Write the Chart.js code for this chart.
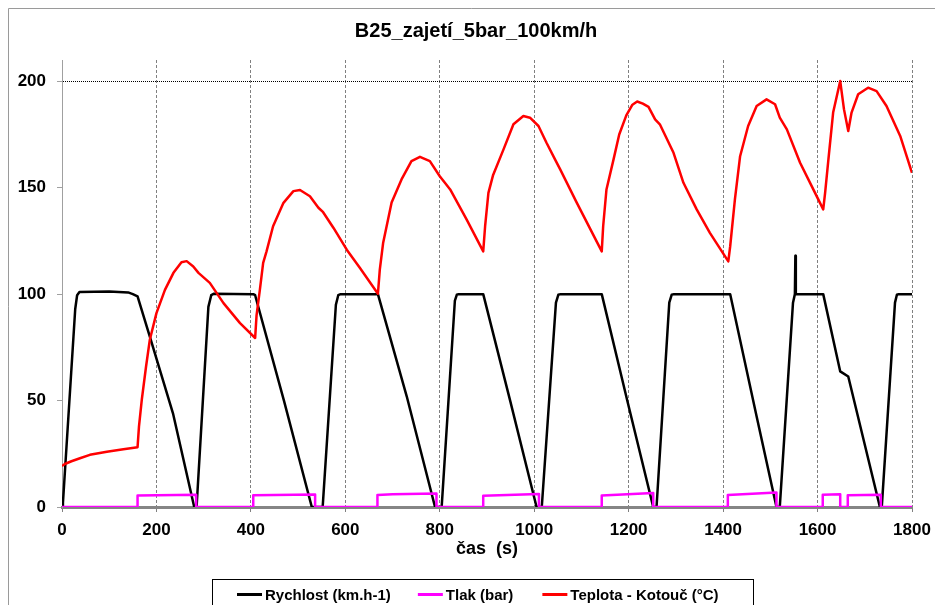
<!DOCTYPE html>
<html>
<head>
<meta charset="utf-8">
<title>B25_zajetí_5bar_100km/h</title>
<script src="https://cdn.jsdelivr.net/npm/chart.js@4.4.1/dist/chart.umd.min.js"></script>
<style>
html, body { margin: 0; padding: 0; background: #fff; }
</style>
</head>
<body>
<canvas id="myChart" width="935" height="605"></canvas>
<script>
var nazev = 'B25_zajetí_5bar_100km/h';
var osaX = 'čas  (s)';

// Rychlost (km.h-1)
var rychlostCas = [0, 2, 28, 32, 37, 100, 140, 150, 160, 186, 235, 280,
	285, 310, 316, 322, 405, 409, 470, 529,
	552, 580, 585, 590, 669, 730, 790,
	804, 832, 836, 840, 892, 949, 1005,
	1016, 1046, 1051, 1056, 1143, 1197, 1252,
	1259, 1286, 1291, 1296, 1415, 1471, 1513,
	1520, 1548, 1552, 1553, 1554, 1612, 1648, 1665, 1732,
	1736, 1764, 1768, 1772, 1800];
var rychlostHodnoty = [0, 2, 93, 99.5, 101, 101.2, 100.8, 100, 99, 80, 44, 0,
	0, 94, 99.5, 100.2, 100, 99.5, 50, 0,
	0, 95, 99.5, 100, 100, 52, 0,
	0, 97, 99.7, 100, 100, 50, 0,
	0, 96, 99.7, 100, 100, 50, 0,
	0, 96, 99.7, 100, 100, 42.5, 0,
	0, 96, 100, 118, 100, 100, 63.7, 61.3, 0,
	0, 96, 99.7, 100, 100];

// Tlak (bar)
var tlakCas = [0, 160, 160, 284, 284,
	405, 405, 536, 536,
	668, 668, 700, 793, 793,
	892, 892, 1010, 1010,
	1143, 1143, 1252, 1252,
	1410, 1410, 1513, 1513,
	1611, 1611, 1648, 1648,
	1664, 1664, 1734, 1734, 1800];
var tlakHodnoty = [0, 0, 5.4, 5.8, 0,
	0, 5.5, 5.9, 0,
	0, 5.6, 6.0, 6.3, 0,
	0, 5.3, 6.1, 0,
	0, 5.4, 6.6, 0,
	0, 5.6, 6.8, 0,
	0, 5.7, 6.0, 0,
	0, 5.5, 5.7, 0, 0];

// Teplota - Kotouč (°C)
var teplotaCas = [0, 6, 20, 38, 59, 95, 130, 160,
	163, 169, 178, 186, 200, 218, 236, 253, 264, 278, 289, 313, 342, 377, 409,
	412, 419, 426, 433, 447, 469, 490, 504, 525, 543, 553, 575, 603, 631, 669,
	673, 680, 698, 719, 740, 758, 779, 800, 822, 857, 892,
	896, 903, 913, 935, 956, 977, 991, 1009, 1026, 1044, 1055, 1090, 1143,
	1146, 1153, 1168, 1180, 1195, 1208, 1218, 1230, 1242, 1256, 1266, 1295, 1316, 1344, 1372, 1411,
	1415, 1425, 1436, 1453, 1471, 1492, 1510, 1520, 1535, 1563, 1591, 1612,
	1616, 1623, 1633, 1648, 1656, 1665, 1672, 1686, 1707, 1725, 1746, 1775, 1800];
var teplotaHodnoty = [19.3, 20.2, 21.5, 22.9, 24.5, 26.0, 27.1, 28.1,
	37.8, 50.4, 66, 78.6, 91.1, 102, 110, 115, 115.5, 113, 110, 105.3, 95.8, 86.4, 79.4,
	90, 102, 114.7, 120, 131.9, 142.9, 148.4, 148.9, 146, 140.6, 138.5, 131.1, 120.9, 112.3, 100.2,
	111.5, 124, 143, 153.9, 162.5, 164.5, 162.5, 155.4, 149.2, 135, 120.1,
	131.9, 147.6, 156, 168, 179.8, 183.7, 182.9, 179, 171.1, 163.3, 158.6, 143, 120.1,
	131.9, 149.2, 163.3, 175, 184, 189, 190.5, 189.5, 188, 182.1, 179.8, 166.4, 152.3, 139.8, 128.8, 115.4,
	122.5, 144.5, 164.8, 179, 188.4, 191.5, 189.2, 182.9, 177.4, 161.7, 149.2, 139.8,
	147.6, 163.3, 185.3, 200.1, 186.8, 176.6, 185.3, 193.9, 197, 195.4, 188.4, 174.3, 157];

var xTicks = [0, 200, 400, 600, 800, 1000, 1200, 1400, 1600, 1800];
var yTicks = [0, 50, 100, 150, 200];

var pismo = '"Liberation Sans", Arial, sans-serif';

function body(cas, hodnoty) {
	var pts = [];
	for (let i = 0; i < cas.length; i++) {
		pts.push({x: cas[i], y: hodnoty[i]});
	}
	return pts;
}

// white background, grey frame and the title
var ramPlugin = {
	id: 'ram',
	beforeDraw: function(chart) {
		var ctx = chart.ctx;
		ctx.save();
		ctx.fillStyle = '#fff';
		ctx.fillRect(0, 0, chart.width, chart.height);
		ctx.strokeStyle = '#9a9a9a';
		ctx.lineWidth = 1;
		ctx.beginPath();
		ctx.moveTo(8.5, chart.height);
		ctx.lineTo(8.5, 8.5);
		ctx.lineTo(chart.width, 8.5);
		ctx.stroke();
		ctx.fillStyle = '#000';
		ctx.font = 'bold 20px ' + pismo;
		ctx.textAlign = 'center';
		ctx.textBaseline = 'middle';
		ctx.fillText(nazev, 476, 31);
		ctx.restore();
	}
};

// legend in a box under the chart, like in Excel
var legendaPlugin = {
	id: 'legenda',
	afterDraw: function(chart) {
		var ctx = chart.ctx;
		var sets = chart.data.datasets;
		var mezery = [27, 29];
		ctx.save();
		ctx.font = 'bold 15px ' + pismo;
		ctx.strokeStyle = '#000';
		ctx.lineWidth = 1;
		ctx.strokeRect(212.5, 579.5, 541, 40);
		var x = 237;
		var y = 594.5;
		ctx.textBaseline = 'middle';
		ctx.textAlign = 'left';
		for (let i = 0; i < sets.length; i++) {
			ctx.strokeStyle = sets[i].borderColor;
			ctx.lineWidth = 3;
			ctx.beginPath();
			ctx.moveTo(x, y);
			ctx.lineTo(x + 25, y);
			ctx.stroke();
			ctx.fillStyle = '#000';
			ctx.fillText(sets[i].label, x + 28, y + 1);
			x += 28 + ctx.measureText(sets[i].label).width + (mezery[i] || 0);
		}
		ctx.restore();
	}
};

var ctx = document.getElementById('myChart');
var myChart = new Chart(ctx, {
	type: 'line',
	data: {
		datasets: [{
			label: 'Rychlost (km.h-1)',
			data: body(rychlostCas, rychlostHodnoty),
			borderColor: '#000000',
			borderWidth: 2.5,
			order: 2
		}, {
			label: 'Tlak (bar)',
			data: body(tlakCas, tlakHodnoty),
			borderColor: '#ff00ff',
			borderWidth: 2.5,
			order: 1
		}, {
			label: 'Teplota - Kotouč (°C)',
			data: body(teplotaCas, teplotaHodnoty),
			borderColor: '#ff0000',
			borderWidth: 2.5,
			order: 0
		}]
	},
	options: {
		responsive: false,
		animation: false,
		devicePixelRatio: 1,
		events: [],
		elements: {
			point: { radius: 0 },
			line: { tension: 0, fill: false, borderJoinStyle: 'round' }
		},
		layout: { padding: { left: 0, right: 23, top: 60, bottom: 0 } },
		plugins: {
			legend: { display: false },
			tooltip: { enabled: false },
			title: { display: false }
		},
		scales: {
			x: {
				type: 'linear',
				min: 0,
				max: 1800,
				afterBuildTicks: function(s) {
					s.ticks = xTicks.map(function(v) { return {value: v}; });
				},
				afterFit: function(s) {
					s.height = 98;
					s.paddingLeft = 0;
					s.paddingRight = 0;
				},
				ticks: {
					color: '#000',
					font: { family: pismo, size: 17, weight: 'bold' },
					padding: 8,
					maxRotation: 0,
					callback: function(v) { return String(v); }
				},
				grid: {
					color: function(c) { return (c.tick && c.tick.value > 0) ? '#808080' : 'rgba(0,0,0,0)'; },
					lineWidth: 1,
					tickColor: '#808080',
					tickLength: 5
				},
				border: {
					color: '#858585',
					width: 3,
					dash: function(c) { return c.tick ? [3, 2] : []; }
				},
				title: {
					display: true,
					text: osaX,
					color: '#000',
					font: { family: pismo, size: 18, weight: 'bold' },
					padding: { top: 0, bottom: 45 }
				}
			},
			y: {
				min: 0,
				max: 210,
				afterBuildTicks: function(s) {
					s.ticks = yTicks.map(function(v) { return {value: v}; });
				},
				afterFit: function(s) {
					s.width = 62;
					s.paddingTop = 0;
					s.paddingBottom = 0;
				},
				ticks: {
					color: '#000',
					font: { family: pismo, size: 17, weight: 'bold' },
					padding: 11,
					callback: function(v) { return String(v); }
				},
				grid: {
					color: function(c) { return (c.tick && c.tick.value === 200) ? '#000' : 'rgba(0,0,0,0)'; },
					lineWidth: 1,
					tickColor: '#a0a0a0',
					tickLength: 5
				},
				border: {
					color: '#a0a0a0',
					width: 1,
					dash: function(c) { return c.tick ? [1, 1] : []; }
				}
			}
		}
	},
	plugins: [ramPlugin, legendaPlugin]
});
</script>
</body>
</html>
